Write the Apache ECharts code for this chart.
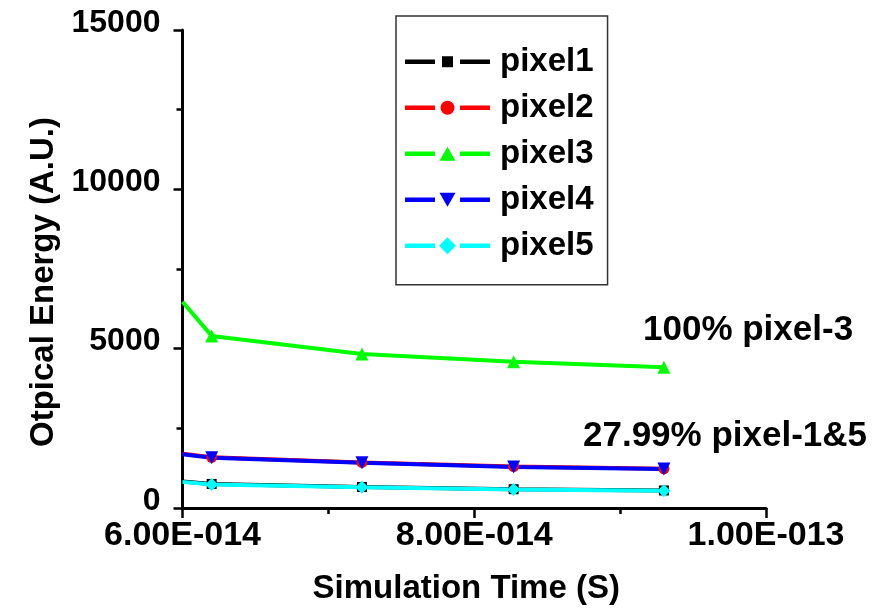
<!DOCTYPE html>
<html>
<head>
<meta charset="utf-8">
<script src="https://cdn.jsdelivr.net/npm/echarts@6/dist/echarts.min.js"></script>
<style>
  html, body { margin: 0; padding: 0; background: #fff; }
  #chart { width: 873px; height: 612px; }
</style>
</head>
<body>
<div id="chart"></div>
<script>
// Simulation time (s) of each sample
const times = [6.0e-14, 6.2e-14, 7.23e-14, 8.27e-14, 9.3e-14];

// Optical energy per pixel (A.U.)
const pixel1 = [835, 755, 660, 590, 550];
const pixel2 = [1700, 1590, 1430, 1300, 1230];
const pixel3 = [6470, 5400, 4830, 4590, 4420];
const pixel4 = [1690, 1580, 1420, 1290, 1220];
const pixel5 = [820, 740, 650, 580, 540];

const seriesNames = ['pixel1', 'pixel2', 'pixel3', 'pixel4', 'pixel5'];
const seriesValues = [pixel1, pixel2, pixel3, pixel4, pixel5];

// Annotation texts
const noteTop = '100% pixel-3';
const noteBottom = '27.99% pixel-1&5';

const FONT = '"Liberation Sans", Arial, Helvetica, sans-serif';
const colors = ['#000000', '#ff0000', '#00ff00', '#0000ff', '#00ffff'];
const symbols = ['rect', 'circle', 'triangle', 'triangle', 'diamond'];
const symbolRotates = [0, 0, 0, 180, 0];
const symbolSizes = [10, 11, 13, 13, 13];

// Legend icons: line – gap – marker – gap – line (90x18 box, anchored by two zero-length subpaths)
const anchor = 'M0 0L0 0ZM90 18L90 18Z';
const bars = 'M0 6.8H30V11.2H0ZM55 6.8H85V11.2H55Z';
const markerPaths = [
  'M37 3.5H48V14.5H37Z',
  'M35.5 9A7 7 0 1 0 49.5 9A7 7 0 1 0 35.5 9Z',
  'M34.5 16H50.5L42.5 2Z',
  'M34.5 2H50.5L42.5 16Z',
  'M42.5 0.5L51 9L42.5 17.5L34 9Z'
];

function sciLabel(v) {
  const s = Number(v).toExponential(2);
  const parts = s.split('e');
  const sign = parts[1][0] === '-' ? '-' : '+';
  const digits = parts[1].replace(/[+-]/, '').padStart(3, '0');
  return parts[0] + 'E' + sign + digits;
}

function plainLabel(v) {
  return String(Math.round(v));
}

const series = seriesNames.map(function (name, i) {
  const data = times.map(function (t, k) {
    const item = { value: [t, seriesValues[i][k]] };
    if (k === 0) item.symbol = 'none';
    return item;
  });
  return {
    name: name,
    type: 'line',
    data: data,
    symbol: symbols[i],
    symbolRotate: symbolRotates[i],
    symbolSize: symbolSizes[i],
    showAllSymbol: true,
    color: colors[i],
    lineStyle: { width: 4, color: colors[i] },
    itemStyle: { color: colors[i], borderWidth: 0 },
    emphasis: { disabled: true },
    animation: false
  };
});

const chart = echarts.init(document.getElementById('chart'), null, { renderer: 'canvas' });

chart.setOption({
  backgroundColor: '#ffffff',
  animation: false,
  grid: { left: 182.5, right: 107, top: 30, bottom: 104, containLabel: false },
  xAxis: {
    type: 'value',
    min: 6e-14,
    max: 1e-13,
    interval: 2e-14,
    name: 'Simulation Time (S)',
    nameLocation: 'middle',
    nameGap: 64,
    nameTextStyle: { fontFamily: FONT, fontWeight: 'bold', fontSize: 33, color: '#000', padding: [0, 16, 0, 0] },
    axisLine: { show: true, onZero: false, lineStyle: { color: '#000', width: 3 } },
    axisTick: { show: true, inside: false, length: 10, lineStyle: { color: '#000', width: 2.5 } },
    minorTick: { show: true, splitNumber: 2, length: 6, lineStyle: { color: '#000', width: 2.5 } },
    splitLine: { show: false },
    axisLabel: {
      fontFamily: FONT, fontWeight: 'bold', fontSize: 34, color: '#000', margin: 11,
      formatter: sciLabel
    }
  },
  yAxis: {
    type: 'value',
    min: 0,
    max: 15000,
    interval: 5000,
    name: 'Otpical Energy (A.U.)',
    nameLocation: 'middle',
    nameGap: 119,
    nameTextStyle: { fontFamily: FONT, fontWeight: 'bold', fontSize: 33, color: '#000', padding: [0, 26, 0, 0] },
    axisLine: { show: true, lineStyle: { color: '#000', width: 3 } },
    axisTick: { show: true, inside: false, length: 9, lineStyle: { color: '#000', width: 2.5 } },
    minorTick: { show: true, splitNumber: 2, length: 6, lineStyle: { color: '#000', width: 2.5 } },
    splitLine: { show: false },
    axisLabel: {
      fontFamily: FONT, fontWeight: 'bold', fontSize: 32, color: '#000', margin: 22,
      verticalAlign: 'bottom', lineHeight: 14,
      formatter: plainLabel
    }
  },
  legend: {
    orient: 'vertical',
    left: 396,
    top: 16,
    padding: [27.7, 14, 21, 9],
    itemWidth: 90,
    itemHeight: 18,
    itemGap: 10,
    borderColor: '#333',
    borderWidth: 1.5,
    backgroundColor: '#fff',
    selectedMode: false,
    textStyle: { fontFamily: FONT, fontWeight: 'bold', fontSize: 33, color: '#000', lineHeight: 36 },
    data: seriesNames.map(function (name, i) {
      return {
        name: name,
        icon: 'path://' + anchor + bars + markerPaths[i],
        itemStyle: { color: colors[i], borderWidth: 0 }
      };
    })
  },
  graphic: [
    {
      type: 'text', x: 643, y: 330, silent: true,
      style: { text: noteTop, fontFamily: FONT, fontWeight: 'bold', fontSize: 35, fill: '#000', verticalAlign: 'middle', align: 'left' }
    },
    {
      type: 'text', x: 583, y: 436.5, silent: true,
      style: { text: noteBottom, fontFamily: FONT, fontWeight: 'bold', fontSize: 35, fill: '#000', verticalAlign: 'middle', align: 'left' }
    }
  ],
  series: series
});
</script>
</body>
</html>
